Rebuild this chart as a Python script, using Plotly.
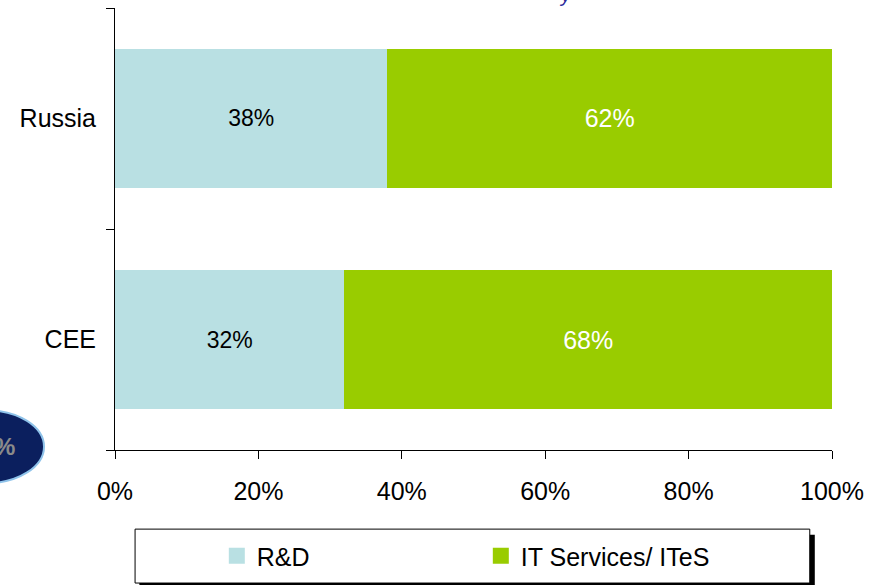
import plotly.graph_objects as go

regions = ["CEE", "Russia"]
rnd_share = [0.32, 0.38]
it_share = [0.68, 0.62]
rnd_labels = ["32%", "38%"]
it_labels = ["68%", "62%"]
series_names = ["R&D", "IT Services/ ITeS"]
series_colors = ["#b9e0e3", "#99cc00"]
x_ticks = [0, 0.2, 0.4, 0.6, 0.8, 1.0]
x_tick_labels = ["0%", "20%", "40%", "60%", "80%", "100%"]

FONT = "Liberation Sans, Arial, sans-serif"

fig = go.Figure()
fig.add_trace(go.Bar(
    y=regions, x=rnd_share, orientation="h", name=series_names[0],
    marker=dict(color=series_colors[0], line=dict(width=0)),
    text=rnd_labels, textposition="inside", insidetextanchor="middle",
    textfont=dict(color="black", size=23, family=FONT),
    hoverinfo="skip", showlegend=False,
))
fig.add_trace(go.Bar(
    y=regions, x=it_share, orientation="h", name=series_names[1],
    marker=dict(color=series_colors[1], line=dict(width=0)),
    text=it_labels, textposition="inside", insidetextanchor="middle",
    textfont=dict(color="white", size=25, family=FONT),
    hoverinfo="skip", showlegend=False,
))
# legend entries (square swatches)
for name, col in zip(series_names, series_colors):
    fig.add_trace(go.Scatter(
        x=[None], y=[None], mode="markers", name=name,
        marker=dict(symbol="square", size=18, color=col),
        showlegend=True, hoverinfo="skip",
    ))

# legend box with shadow
fig.add_shape(type="rect", xref="paper", yref="paper",
              x0=0.034, x1=0.976, y0=-0.192, y1=-0.33,
              fillcolor="black", line=dict(width=0), layer="below")
fig.add_shape(type="rect", xref="paper", yref="paper",
              x0=0.028, x1=0.969, y0=-0.179, y1=-0.301,
              fillcolor="white", line=dict(color="black", width=1), layer="below")

# partial ellipse at left
fig.add_shape(type="circle", xref="paper", yref="paper",
              x0=-0.26, x1=-0.099, y0=0.09, y1=-0.075,
              fillcolor="#0b1f5e", line=dict(color="#8fc3ea", width=2))
fig.add_annotation(xref="paper", yref="paper", x=-0.154, y=0.009,
                   xanchor="center", yanchor="middle",
                   text="<b>%</b>", showarrow=False,
                   font=dict(color="#8a8a8a", size=24, family=FONT))

# cut-off title fragment at top
fig.add_annotation(xref="paper", yref="paper", x=0.628, y=1.0, yanchor="bottom",
                   text="<i>y</i>", showarrow=False,
                   font=dict(color="#2b2b9a", size=20, family=FONT))

fig.update_layout(
    width=876, height=585,
    margin=dict(l=115, r=44, t=8, b=135, autoexpand=False),
    plot_bgcolor="white", paper_bgcolor="white",
    barmode="stack", bargap=0.37,
    font=dict(family=FONT, color="black"),
    showlegend=True,
    legend=dict(orientation="h", x=0.142, y=-0.24, xanchor="left", yanchor="middle",
                font=dict(size=25, family=FONT), entrywidth=219,
                bgcolor="rgba(0,0,0,0)", traceorder="normal", itemsizing="trace"),
    xaxis=dict(range=[0, 1], tickvals=x_ticks, ticktext=x_tick_labels,
               showgrid=False, zeroline=False, showline=True, linecolor="black",
               linewidth=1, ticks="outside", ticklen=8, tickcolor="black",
               tickfont=dict(size=25), ticklabelstandoff=11, fixedrange=True,
               automargin=False),
    yaxis=dict(categoryorder="array", categoryarray=regions, range=[-0.5, 1.5],
               showgrid=False, zeroline=False, showline=True, linecolor="black",
               linewidth=1, ticks="outside", ticklen=8, tickcolor="black",
               tickson="boundaries", tickfont=dict(size=25), ticklabelstandoff=13,
               fixedrange=True, automargin=False),
)

fig.write_html("out.html", config={"displayModeBar": False},
               post_script="document.body.style.margin='0';")
